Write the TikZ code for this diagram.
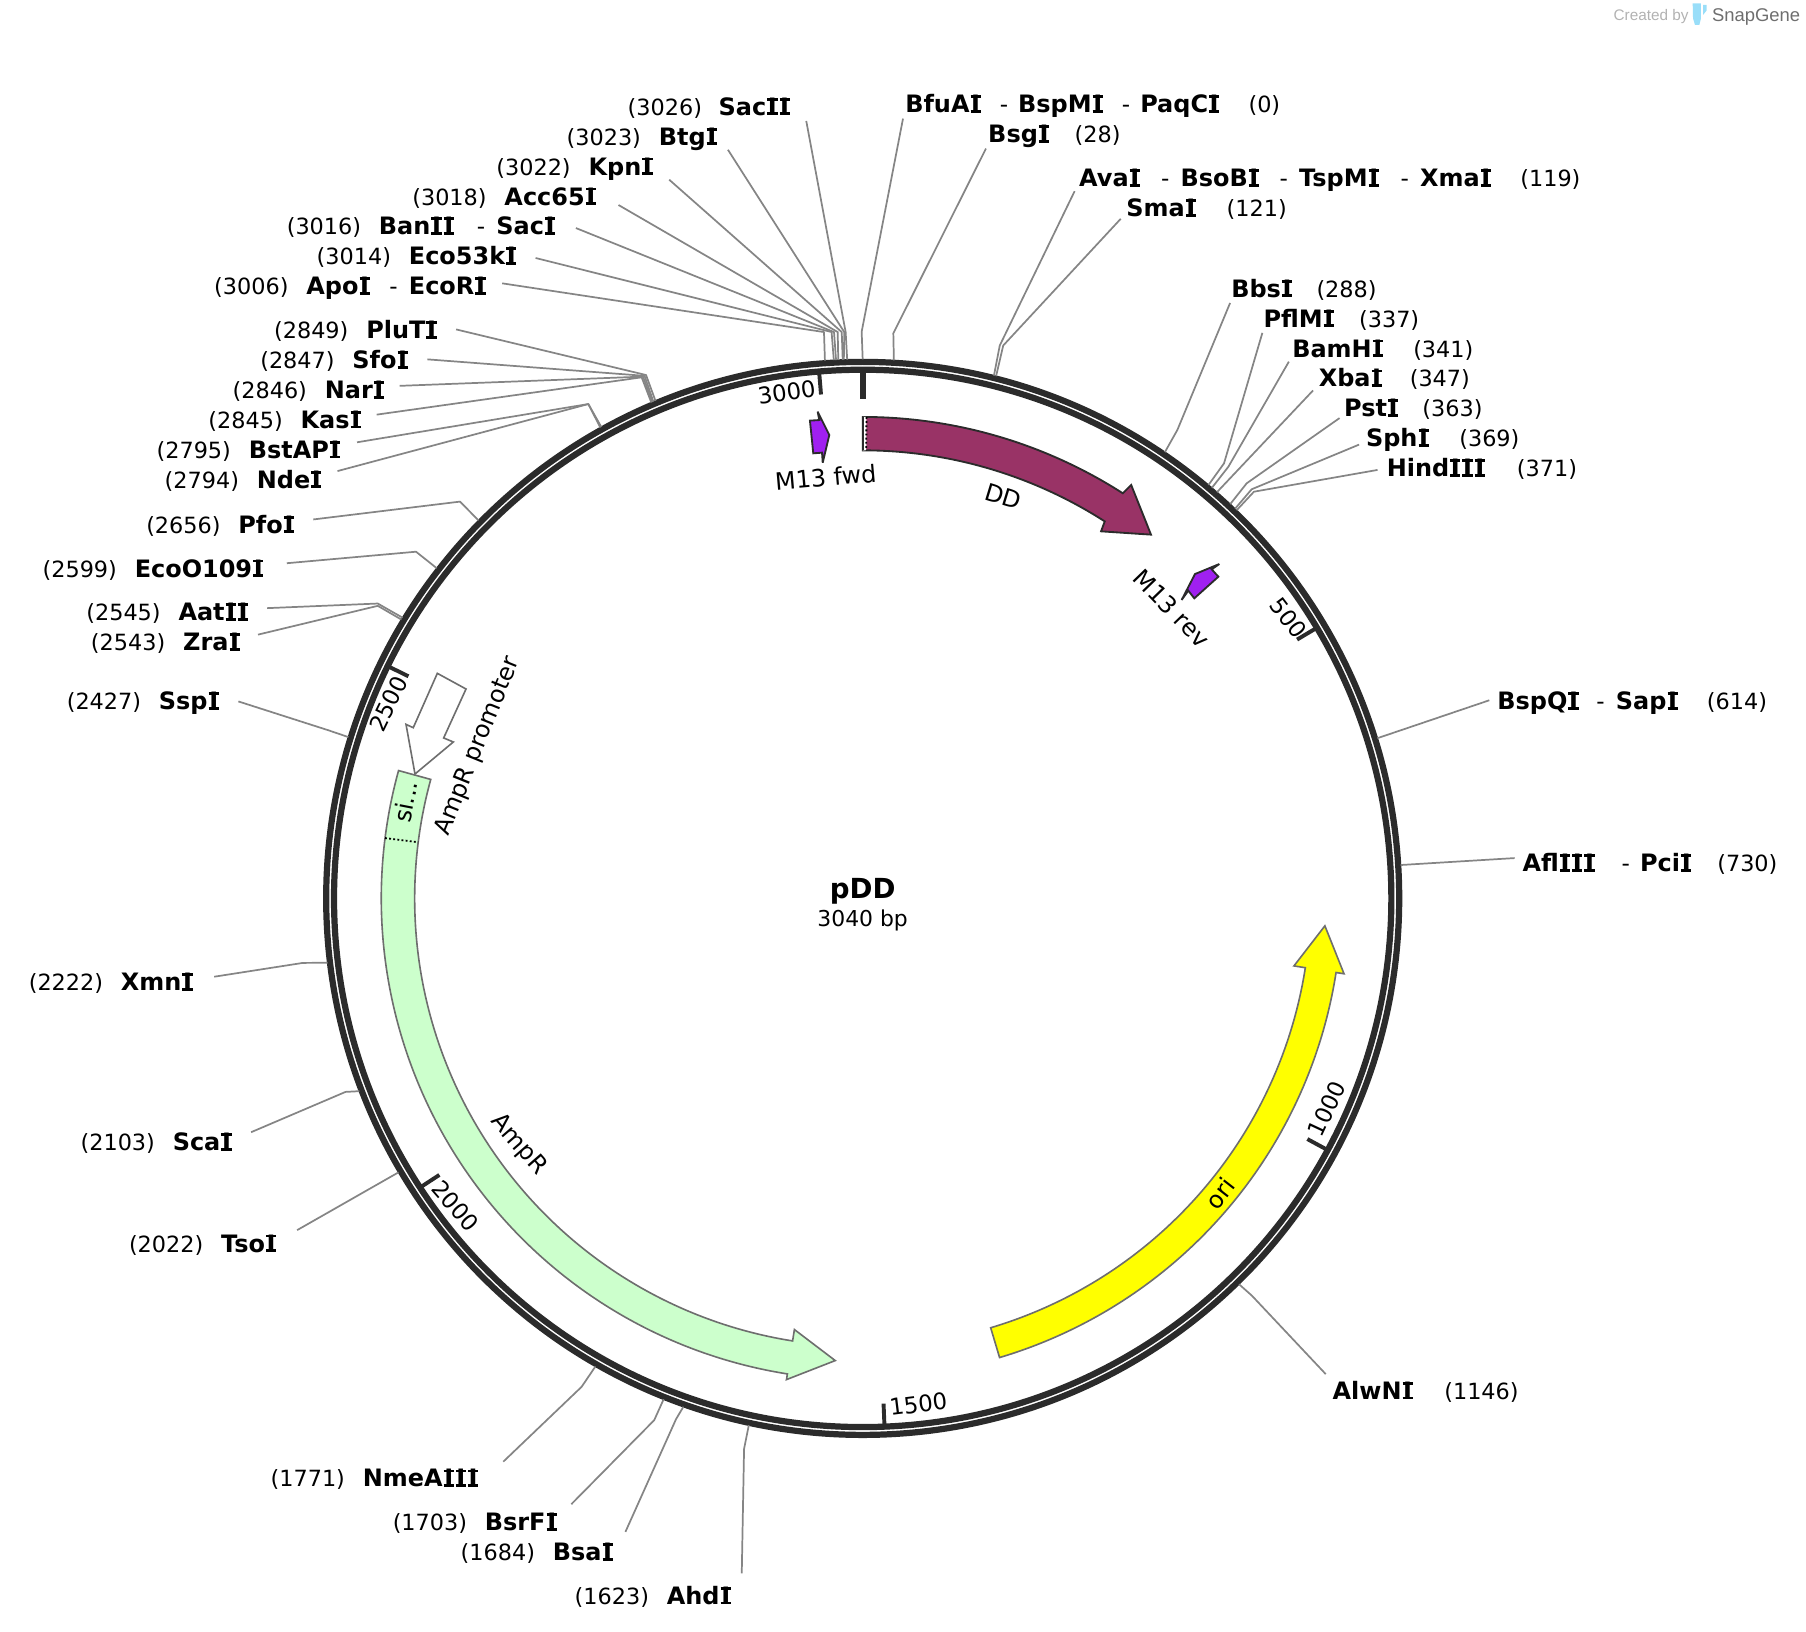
\documentclass[tikz,border=0pt]{standalone}
\usepackage{fontspec}
\setmainfont{DejaVu Sans}
\newfontfamily\logofont{Liberation Sans}
\definecolor{ringcol}{HTML}{2B2B2B}
\definecolor{wirecol}{HTML}{858585}
\definecolor{ddcol}{HTML}{993366}
\definecolor{primercol}{HTML}{A020F0}
\definecolor{ampcol}{HTML}{CCFFCC}
\definecolor{oricol}{HTML}{FFFF00}
\definecolor{edgecol}{HTML}{6E6E6E}
\newcommand{\sI}{\rlap{\kern0.45pt\rule{4.4pt}{1.25pt}}\rlap{\kern0.45pt\raisebox{6.33pt}{\rule{4.4pt}{1.25pt}}}\makebox[5.3pt][c]{I}}
\tikzset{enz/.style = {inner sep=0pt, outer sep=0pt, anchor=base west, yshift=-0.5pt,
                       font=\fontsize{10.4}{12}\selectfont\bfseries},
         num/.style = {inner sep=0pt, outer sep=0pt, anchor=base west, yshift=-0.5pt,
                       font=\fontsize{9.7}{11}\selectfont},
         dsh/.style = {inner sep=0pt, outer sep=0pt, anchor=base west, yshift=-0.5pt,
                       font=\fontsize{10}{11}\selectfont},
         tck/.style = {inner sep=0pt, font=\fontsize{9.9}{11}\selectfont},
         txt/.style = {inner sep=0pt, font=\fontsize{10.4}{12}\selectfont},
         wire/.style = {draw=wirecol, line width=0.75pt, line join=round},
         band/.style = {draw=edgecol, line width=0.7pt, line join=miter},
         primer/.style = {draw=ringcol, fill=primercol, line width=0.8pt, line join=miter, miter limit=2}}
\begin{document}
\begin{tikzpicture}[x=0.5pt, y=-0.5pt]
  \useasboundingbox (0, 0) rectangle (1568, 1416.9);
  \begin{scope}[shift={(749, 780)}, y=0.5pt]
    \foreach \p in {0, 28, 119, 121, 288, 337, 341, 347, 363, 369, 371, 614, 730, 1146,
                    1623, 1684, 1703, 1771, 2022, 2103, 2222, 2427, 2543, 2545, 2599, 2656,
                    2794, 2795, 2845, 2846, 2847, 2849, 3006, 3014, 3016, 3018, 3022, 3023, 3026}
      \coordinate (cut\p) at ({90 - \p*0.118421}:468);
    \draw [ringcol, line width=2.7pt] (0, 0) circle (465.8);
    \draw [ringcol, line width=2.7pt] (0, 0) circle (459);
    \draw [ringcol, line width=2.45pt] (90:457) -- (90:434);
    \foreach \p in {500, 1000, 1500, 2000, 2500, 3000}
      \draw [ringcol, line width=1.7pt] ({90 - \p*0.118421}:457) -- ({90 - \p*0.118421}:439);
    \draw [band, draw=ringcol, fill=ddcol, line width=0.8pt] (90:418) arc [start angle=90, end angle=57.3, radius=418]
      -- (57:428) -- (51.6:403) -- (57:380) -- (57.3:389)
      arc [start angle=57.3, end angle=90, radius=389] -- cycle;
    \fill [white] (90:418) -- (89.55:418) -- (89.55:389) -- (90:389) -- cycle;
    \draw [ringcol, line width=0.8pt] (90:418) -- (90:389);
    \draw [black, densely dotted, line width=0.8pt] (89.55:418) -- (89.55:389);
    \draw [band, fill=oricol] (-73.4:416) arc [start angle=-73.4, end angle=-8.9, radius=416]
      -- (-8.9:423) -- (-3.4:402) -- (-8.9:379) -- (-8.9:389)
      arc [start angle=-8.9, end angle=-73.4, radius=389] -- cycle;
    \draw [band, fill=ampcol] (164.6:418) arc [start angle=164.6, end angle=261, radius=418]
      -- (261:423) -- (266.6:402) -- (261:379) -- (261:389)
      arc [start angle=261, end angle=164.6, radius=389] -- cycle;
    \draw [black, densely dotted, line width=0.8pt] (172.8:418) -- (172.8:389);
  \end{scope}
  \draw [band, fill=white] (379.7, 584.6) -- (404.6, 598.2) -- (385.2, 640.7) -- (393.6, 644.2)
    -- (360.3, 672) -- (352.5, 628.9) -- (358.8, 631.8) -- cycle;
  \draw [primer] (703.2, 365.2) -- (711.3, 364.7) -- (709.9, 357.4) -- (720, 377.7)
    -- (714.3, 401.7) -- (713.7, 393) -- (706.1, 393.6) -- cycle;
  \draw [primer] (1058.6, 489.7) -- (1037.5, 498.4) -- (1025.9, 520.9) -- (1031.7, 512.8)
    -- (1036.9, 519.5) -- (1057.8, 500.7) -- (1052, 494.3) -- cycle;

  \node [tck, rotate=8] (t3000) at (683, 340.3) {3000};
  \node [tck, rotate=-53] (t500) at (1118.5, 536.7) {500};
  \node [tck, rotate=65] (t1000) at (1151.8, 962.9) {1000};
  \node [tck, rotate=7] (t1500) at (797.3, 1219) {1500};
  \node [tck, rotate=-49] (t2000) at (395.6, 1047) {2000};
  \node [tck, rotate=64] (t2500) at (337.1, 610.7) {2500};
  \node [txt, rotate=5] (lM13fwd) at (716.9, 414.4) {M13 fwd};
  \node [txt, rotate=-46] (lM13rev) at (1017.3, 528.2) {M13 rev};
  \node [txt, rotate=-17] (lDD) at (871, 431) {DD};
  \node [txt, rotate=52] (lori) at (1059, 1036) {ori};
  \node [txt, rotate=-49] (lAmpR) at (450, 994) {AmpR};
  \node [txt, rotate=79] (lsi) at (352, 696) {si...};
  \node [txt, rotate=68] (lprom) at (415, 648) {AmpR promoter};
  \node [inner sep=0pt, font=\fontsize{12}{14}\selectfont\bfseries] (lname) at (749, 773.5) {pDD};
  \node [tck, font=\fontsize{9.5}{11}\selectfont] (lsize) at (749, 799) {3040 bp};

  \node [num] (nSacII) at (545, 99) {(3026)};
  \node [enz] (SacII) at (624, 99) {Sac\sI\sI};
  \node [num] (nBtgI) at (492, 125) {(3023)};
  \node [enz] (BtgI) at (572, 125) {Btg\sI};
  \node [num] (nKpnI) at (431, 151) {(3022)};
  \node [enz] (KpnI) at (511, 151) {Kpn\sI};
  \node [num] (nAcc) at (358, 177) {(3018)};
  \node [enz] (Acc65I) at (438, 177) {Acc65\sI};
  \node [num] (nBanII) at (249, 203) {(3016)};
  \node [enz] (BanII) at (329, 203) {Ban\sI\sI};
  \node [dsh] (dBanII) at (414, 203) {-};
  \node [enz] (SacI) at (431, 203) {Sac\sI};
  \node [num] (nEco53) at (275, 229) {(3014)};
  \node [enz] (Eco53kI) at (355, 229) {Eco53k\sI};
  \node [num] (nApoI) at (186, 255) {(3006)};
  \node [enz] (ApoI) at (266, 255) {Apo\sI};
  \node [dsh] (dApoI) at (338, 255) {-};
  \node [enz] (EcoRI) at (355, 255) {EcoR\sI};
  \node [num] (nPluTI) at (238, 293) {(2849)};
  \node [enz] (PluTI) at (318, 293) {PluT\sI};
  \node [num] (nSfoI) at (226, 319) {(2847)};
  \node [enz] (SfoI) at (306, 319) {Sfo\sI};
  \node [num] (nNarI) at (202, 345) {(2846)};
  \node [enz] (NarI) at (282, 345) {Nar\sI};
  \node [num] (nKasI) at (181, 371) {(2845)};
  \node [enz] (KasI) at (261, 371) {Kas\sI};
  \node [num] (nBstAPI) at (136, 397) {(2795)};
  \node [enz] (BstAPI) at (216, 397) {BstAP\sI};
  \node [num] (nNdeI) at (143, 423) {(2794)};
  \node [enz] (NdeI) at (223, 423) {Nde\sI};
  \node [num] (nPfoI) at (127, 462) {(2656)};
  \node [enz] (PfoI) at (207, 462) {Pfo\sI};
  \node [num] (nEcoO) at (37, 500) {(2599)};
  \node [enz] (EcoO109I) at (117, 500) {EcoO109\sI};
  \node [num] (nAatII) at (75, 538) {(2545)};
  \node [enz] (AatII) at (155, 538) {Aat\sI\sI};
  \node [num] (nZraI) at (79, 564) {(2543)};
  \node [enz] (ZraI) at (159, 564) {Zra\sI};
  \node [num] (nSspI) at (58, 615) {(2427)};
  \node [enz] (SspI) at (138, 615) {Ssp\sI};
  \node [num] (nXmnI) at (25, 859) {(2222)};
  \node [enz] (XmnI) at (105, 859) {Xmn\sI};
  \node [num] (nScaI) at (70, 998) {(2103)};
  \node [enz] (ScaI) at (150, 998) {Sca\sI};
  \node [num] (nTsoI) at (112, 1086) {(2022)};
  \node [enz] (TsoI) at (192, 1086) {Tso\sI};
  \node [num] (nNme) at (235, 1290) {(1771)};
  \node [enz] (NmeAIII) at (315, 1290) {NmeA\sI\sI\sI};
  \node [num] (nBsrFI) at (341, 1328) {(1703)};
  \node [enz] (BsrFI) at (421, 1328) {BsrF\sI};
  \node [num] (nBsaI) at (400, 1354) {(1684)};
  \node [enz] (BsaI) at (480, 1354) {Bsa\sI};
  \node [num] (nAhdI) at (499, 1392) {(1623)};
  \node [enz] (AhdI) at (579, 1392) {Ahd\sI};

  \node [enz] (BfuAI) at (786, 97) {BfuA\sI};
  \node [dsh] (dBfuAI) at (868, 97) {-};
  \node [enz] (BspMI) at (884, 97) {BspM\sI};
  \node [dsh] (dBspMI) at (974, 97) {-};
  \node [enz] (PaqCI) at (990, 97) {PaqC\sI};
  \node [num] (nBfuAI) at (1084, 97) {(0)};
  \node [enz] (BsgI) at (858, 123) {Bsg\sI};
  \node [num] (nBsgI) at (933, 123) {(28)};
  \node [enz] (AvaI) at (937, 161) {Ava\sI};
  \node [dsh] (dAvaI) at (1008, 161) {-};
  \node [enz] (BsoBI) at (1025, 161) {BsoB\sI};
  \node [dsh] (dBsoBI) at (1111, 161) {-};
  \node [enz] (TspMI) at (1128, 161) {TspM\sI};
  \node [dsh] (dTspMI) at (1216, 161) {-};
  \node [enz] (XmaI) at (1233, 161) {Xma\sI};
  \node [num] (nAvaI) at (1320, 161) {(119)};
  \node [enz] (SmaI) at (978, 187) {Sma\sI};
  \node [num] (nSmaI) at (1065, 187) {(121)};
  \node [enz] (BbsI) at (1069, 257) {Bbs\sI};
  \node [num] (nBbsI) at (1143, 257) {(288)};
  \node [enz] (PflMI) at (1097, 283) {PflM\sI};
  \node [num] (nPflMI) at (1180, 283) {(337)};
  \node [enz] (BamHI) at (1122, 309) {BamH\sI};
  \node [num] (nBamHI) at (1227, 309) {(341)};
  \node [enz] (XbaI) at (1145, 335) {Xba\sI};
  \node [num] (nXbaI) at (1224, 335) {(347)};
  \node [enz] (PstI) at (1167, 361) {Pst\sI};
  \node [num] (nPstI) at (1235, 361) {(363)};
  \node [enz] (SphI) at (1186, 387) {Sph\sI};
  \node [num] (nSphI) at (1267, 387) {(369)};
  \node [enz] (HindIII) at (1204, 413) {Hind\sI\sI\sI};
  \node [num] (nHindIII) at (1317, 413) {(371)};
  \node [enz] (BspQI) at (1300, 615) {BspQ\sI};
  \node [dsh] (dBspQI) at (1386, 615) {-};
  \node [enz] (SapI) at (1403, 615) {Sap\sI};
  \node [num] (nBspQI) at (1482, 615) {(614)};
  \node [enz] (AflIII) at (1322, 756) {Afl\sI\sI\sI};
  \node [dsh] (dAflIII) at (1408, 756) {-};
  \node [enz] (PciI) at (1424, 756) {Pci\sI};
  \node [num] (nAflIII) at (1491, 756) {(730)};
  \node [enz] (AlwNI) at (1157, 1214) {AlwN\sI};
  \node [num] (nAlwNI) at (1254, 1214) {(1146)};

  \draw [wire] ([shift={(76, 5)}]SacII.base west) -- (734.2, 288.3) -- (cut3026);
  \draw [wire] ([shift={(60, 4)}]BtgI.base west) -- (733, 288.3) -- (cut3023);
  \draw [wire] ([shift={(70, 4)}]KpnI.base west) -- (730.8, 288.3) -- (cut3022);
  \draw [wire] ([shift={(99, 0)}]Acc65I.base west) -- (727.3, 288.3) -- (cut3018);
  \draw [wire] ([shift={(69, -6)}]SacI.base west) -- (724.1, 288.3) -- (cut3016);
  \draw [wire] ([shift={(110, -6)}]Eco53kI.base west) -- (722, 288.3) -- (cut3014);
  \draw [wire] ([shift={(81, -10)}]EcoRI.base west) -- (715.4, 288.3) -- (cut3006);
  \draw [wire] ([shift={(78, -8)}]PluTI.base west) -- (560.9, 325.6) -- (cut2849);
  \draw [wire] ([shift={(65, -8)}]SfoI.base west) -- (559.6, 326.3) -- (cut2847);
  \draw [wire] ([shift={(65, -11)}]NarI.base west) -- (558.3, 327) -- (cut2846);
  \draw [wire] ([shift={(66, -12)}]KasI.base west) -- (557.1, 327.6) -- (cut2845);
  \draw [wire] ([shift={(94, -14)}]BstAPI.base west) -- (510.8, 350.8) -- (cut2795);
  \draw [wire] ([shift={(70, -15)}]NdeI.base west) -- (510.8, 350.8) -- (cut2794);
  \draw [wire] ([shift={(65, -12)}]PfoI.base west) -- (399.4, 435.5) -- (cut2656);
  \draw [wire] ([shift={(132, -12)}]EcoO109I.base west) -- (361.2, 479) -- (cut2599);
  \draw [wire] ([shift={(77, -11)}]AatII.base west) -- (328, 524) -- (cut2545);
  \draw [wire] ([shift={(65, -14)}]ZraI.base west) -- (328, 526) -- (cut2543);
  \draw [wire] ([shift={(69, -7)}]SspI.base west) -- (285, 634) -- (cut2427);
  \draw [wire] ([shift={(81, -12)}]XmnI.base west) -- (263, 836) -- (cut2222);
  \draw [wire] ([shift={(68, -16)}]ScaI.base west) -- (300, 948) -- (cut2103);
  \draw [wire] ([shift={(66, -19)}]TsoI.base west) -- (cut2022);
  \draw [wire] ([shift={(122, -22)}]NmeAIII.base west) -- (505, 1204) -- (cut1771);
  \draw [wire] ([shift={(75, -23)}]BsrFI.base west) -- (568, 1233) -- (cut1703);
  \draw [wire] ([shift={(63, -25)}]BsaI.base west) -- (587, 1232) -- (cut1684);
  \draw [wire] ([shift={(65, -27)}]AhdI.base west) -- (646, 1258) -- (cut1623);
  \draw [wire] ([shift={(-2, 5)}]BfuAI.base west) -- (748.1, 288) -- (cut0);
  \draw [wire] ([shift={(-2, 5)}]BsgI.base west) -- (775.6, 289.4) -- (cut28);
  \draw [wire] ([shift={(-4, 4)}]AvaI.base west) -- (868, 300) -- (cut119);
  \draw [wire] ([shift={(-5, 2)}]SmaI.base west) -- (871, 300) -- (cut121);
  \draw [wire] ([shift={(-1, 5)}]BbsI.base west) -- (1022.2, 373.3) -- (cut288);
  \draw [wire] ([shift={(-1, 5)}]PflMI.base west) -- (1062.7, 402.3) -- (cut337);
  \draw [wire] ([shift={(-3, 4)}]BamHI.base west) -- (1066.5, 405.2) -- (cut341);
  \draw [wire] ([shift={(-5, 3)}]XbaI.base west) -- (cut347);
  \draw [wire] ([shift={(-4, 1)}]PstI.base west) -- (1082.4, 419.6) -- (cut363);
  \draw [wire] ([shift={(-6, -2)}]SphI.base west) -- (1086.7, 424.8) -- (cut369);
  \draw [wire] ([shift={(-8, -6)}]HindIII.base west) -- (1088.7, 426.9) -- (cut371);
  \draw [wire] ([shift={(-7, -8)}]BspQI.base west) -- (cut614);
  \draw [wire] ([shift={(-7, -12)}]AflIII.base west) -- (cut730);
  \draw [wire] ([shift={(-6, -22)}]AlwNI.base west) -- (1087, 1125) -- (cut1146);

  \node [inner sep=0pt, anchor=west, text=gray!60, font=\logofont\fontsize{6.65}{8}\selectfont] (created) at (1400.6, 14.6) {Created by};
  \node [inner sep=0pt, anchor=west, text=edgecol, font=\logofont\fontsize{8}{10}\selectfont] (snapgene) at (1486, 14.6) {SnapGene};
  \fill [cyan!40!white] (1469.6, 2.9) -- (1476.8, 2.9) -- (1476.8, 16) -- (1475.4, 21.7)
    -- (1471.6, 21.7) -- (1469.9, 16) -- cycle;
  \fill [cyan!40!white] (1478.6, 4.3) -- (1481.8, 4.3) -- (1481.8, 9) -- (1478.6, 13) -- cycle;
\end{tikzpicture}
\end{document}
